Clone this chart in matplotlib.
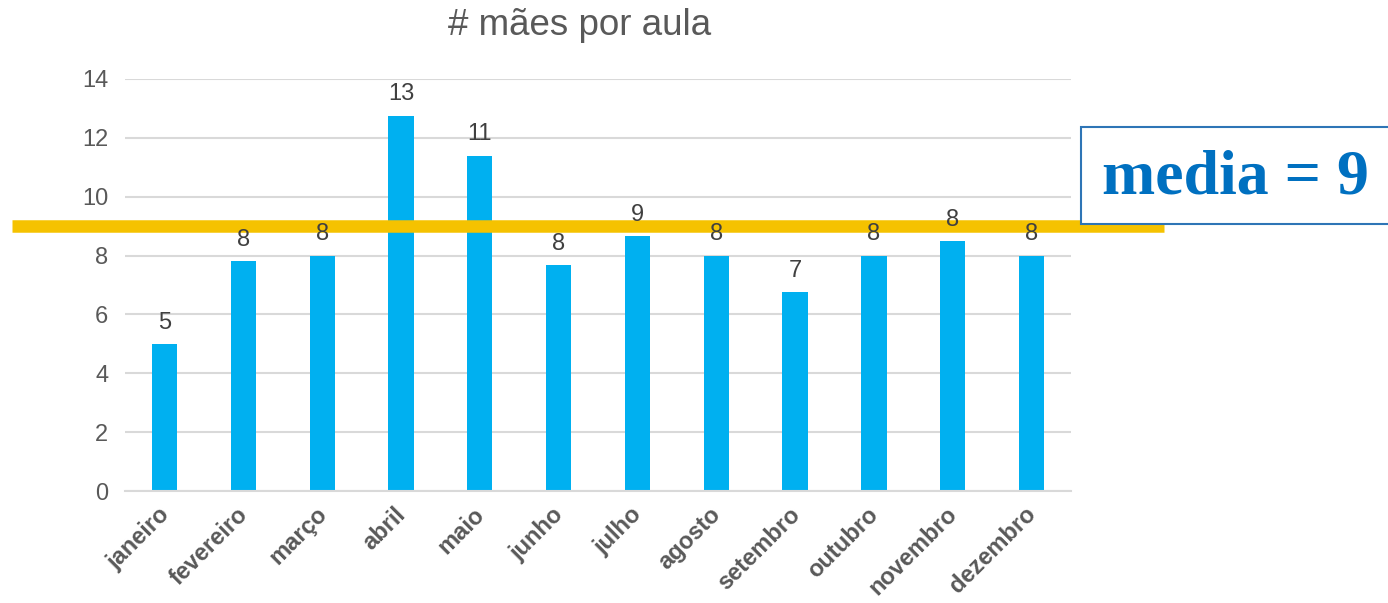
import numpy as np
import matplotlib.pyplot as plt
import matplotlib.transforms as mtrans
from matplotlib.patches import Rectangle

# dades del gràfic
meses = ['janeiro', 'fevereiro', 'março', 'abril', 'maio', 'junho',
         'julho', 'agosto', 'setembro', 'outubro', 'novembro', 'dezembro']
maes = [5, 7.8, 8, 12.75, 11.4, 7.67, 8.67, 8, 6.75, 8, 8.5, 8]
media = 9

plt.rcParams['font.family'] = ['Liberation Sans', 'DejaVu Sans']

fig = plt.figure(figsize=(13.88, 6.03), dpi=100)
ax = fig.add_axes([0.0901, 0.1857, 0.6815, 0.6833])

x = np.arange(len(meses))
ax.bar(x, maes, width=0.32, color='#00B0F0', zorder=2)
for xi, v in zip(x, maes):
    ax.text(xi, v + 0.35, '%d' % round(v), ha='center', va='bottom',
            fontsize=17, color='#404040', zorder=6)

ax.set_xlim(-0.5, len(meses) - 0.5)
ax.set_ylim(0, 14)
ax.set_yticks(np.arange(0, 15, 2))
ax.yaxis.grid(True, color='#D9D9D9', lw=1.5, zorder=0)
ax.set_axisbelow(True)
for s in ['top', 'right', 'left']:
    ax.spines[s].set_visible(False)
ax.spines['bottom'].set_color('#D9D9D9')
ax.spines['bottom'].set_linewidth(1.5)
ax.tick_params(axis='both', length=0, labelsize=17, colors='#595959', pad=12)
ax.set_xticks(x)
ax.set_xticklabels(meses, rotation=45, ha='right', rotation_mode='anchor',
                   fontweight='bold', fontsize=17)
ax.tick_params(axis='x', pad=10)
# desplacem una mica les etiquetes cap a l'esquerra
desp = mtrans.ScaledTranslation(-0.07, 0.02, fig.dpi_scale_trans)
for lab in ax.get_xticklabels():
    lab.set_transform(lab.get_transform() + desp)

fig.text(0.4179, 0.957, '# mães por aula', ha='center', va='center',
         fontsize=26.5, color='#595959')

# linia de la mitjana, més llarga que els eixos
trans = ax.get_yaxis_transform()
ax.plot([-0.1195, 1.098], [media, media], transform=trans, color='#F5C200',
        lw=9, clip_on=False, zorder=4, solid_capstyle='butt')

# caixa amb el text
box = Rectangle((1081 / 1388, 1 - 224 / 603), 0.23, 97 / 603,
                transform=fig.transFigure, facecolor='white',
                edgecolor='#2E75B6', lw=1.5, zorder=5)
fig.add_artist(box)
fig.text(1235 / 1388, 1 - 178 / 603, 'media = %d' % media, ha='center',
         va='center', fontsize=46, fontweight='bold', color='#0070C0',
         family=['Liberation Serif', 'DejaVu Serif'], zorder=6)

fig.savefig('out.png', dpi=100)
